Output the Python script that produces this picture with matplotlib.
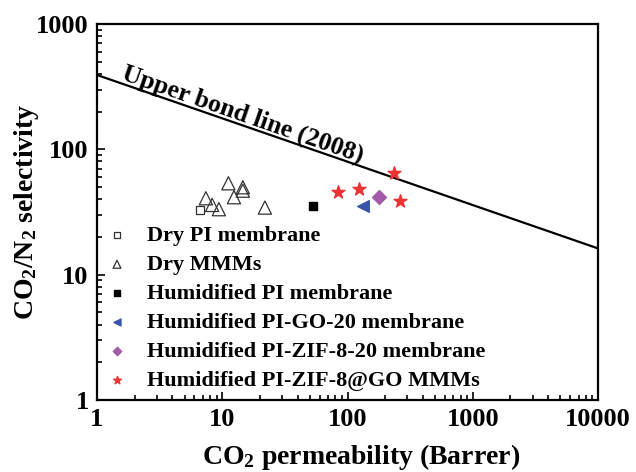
import matplotlib
matplotlib.use('Agg')
import matplotlib.pyplot as plt
from matplotlib.ticker import LogLocator, FixedLocator, NullFormatter

plt.rcParams['font.family'] = ['Liberation Serif', 'DejaVu Serif']
plt.rcParams['font.weight'] = 'bold'
plt.rcParams['axes.labelweight'] = 'bold'
plt.rcParams['mathtext.fontset'] = 'custom'
plt.rcParams['mathtext.rm'] = 'Liberation Serif:bold'
plt.rcParams['mathtext.bf'] = 'Liberation Serif:bold'
plt.rcParams['mathtext.it'] = 'Liberation Serif:bold'
plt.rcParams['mathtext.default'] = 'bf'

# upper bound line (Robeson 2008)
bound_x = [1, 10000]
bound_y = [392, 16.2]

dry_pi_x = [6.64]
dry_pi_y = [32.6]

dry_mmm_x = [7.4, 8.3, 9.4, 11.2, 12.4, 14.6, 14.6, 21.9]
dry_mmm_y = [40.7, 36.0, 33.3, 53.6, 41.5, 49.8, 46.8, 34.3]

hum_pi_x = [52.7]
hum_pi_y = [35.3]

hum_go_x = [132]
hum_go_y = [35.5]

hum_zif_x = [179]
hum_zif_y = [41.5]

hum_zifgo_x = [83.5, 124, 236, 262]
hum_zifgo_y = [45.5, 48.3, 64.4, 38.7]

fig = plt.figure(figsize=(6.36, 4.72), dpi=100)
ax = fig.add_axes([97/636, 72/472, 501/636, 376/472])

ax.plot(bound_x, bound_y, color='black', lw=1.6)

ax.scatter(dry_pi_x, dry_pi_y, marker='s', s=40, facecolors='white', edgecolors='#333333', lw=0.9,
           label='Dry PI membrane', zorder=3)
ax.scatter(dry_mmm_x, dry_mmm_y, marker='^', s=90, facecolors='none', edgecolors='#333333', lw=0.9,
           label='Dry MMMs', zorder=3)
ax.scatter(hum_pi_x, hum_pi_y, marker='s', s=40, color='black', label='Humidified PI membrane', zorder=3)
ax.scatter(hum_go_x, hum_go_y, marker='<', s=70, color='#3a55a8', label='Humidified PI-GO-20 membrane', zorder=3)
ax.scatter(hum_zif_x, hum_zif_y, marker='D', s=50, color='#a35aa8', label='Humidified PI-ZIF-8-20 membrane', zorder=3)
ax.scatter(hum_zifgo_x, hum_zifgo_y, marker='*', s=95, color='#ee3333', label='Humidified PI-ZIF-8@GO MMMs', zorder=3)

ax.set_xscale('log')
ax.set_yscale('log')
ax.set_xlim(1, 10000)
ax.set_ylim(1, 1000)
ax.xaxis.set_major_locator(FixedLocator([1, 10, 100, 1000, 10000]))
ax.yaxis.set_major_locator(FixedLocator([1, 10, 100, 1000]))
ax.set_xticklabels(['1', '10', '100', '1000', '10000'])
ax.set_yticklabels(['1', '10', '100', '1000'])
ax.xaxis.set_minor_locator(LogLocator(base=10, subs=range(2, 10), numticks=20))
ax.yaxis.set_minor_locator(LogLocator(base=10, subs=range(2, 10), numticks=20))
ax.xaxis.set_minor_formatter(NullFormatter())
ax.yaxis.set_minor_formatter(NullFormatter())
ax.tick_params(which='both', direction='in', top=False, right=False, labelsize=19, width=1.2)
ax.tick_params(which='major', length=6, pad=6)
ax.tick_params(which='minor', length=3.5)
for s in ax.spines.values():
    s.set_linewidth(1.6)

ax.set_xlabel('CO$_2$ permeability (Barrer)', fontsize=20, fontweight='bold', labelpad=8)
ax.set_ylabel('CO$_2$/N$_2$ selectivity', fontsize=20, fontweight='bold', labelpad=-3.5)
ax.xaxis.label.set_x(0.527)

ax.text(1.55, 368, 'Upper bond line (2008)', rotation=-19.2, rotation_mode='anchor',
        fontsize=18.5, fontweight='bold', ha='left', va='baseline')

ax.legend(loc='lower left', frameon=False, fontsize=16,
          handlelength=1.0, handletextpad=0.85, labelspacing=0.38, borderaxespad=0.0,
          scatterpoints=1, markerscale=0.6)

fig.savefig('out.png', dpi=100)
